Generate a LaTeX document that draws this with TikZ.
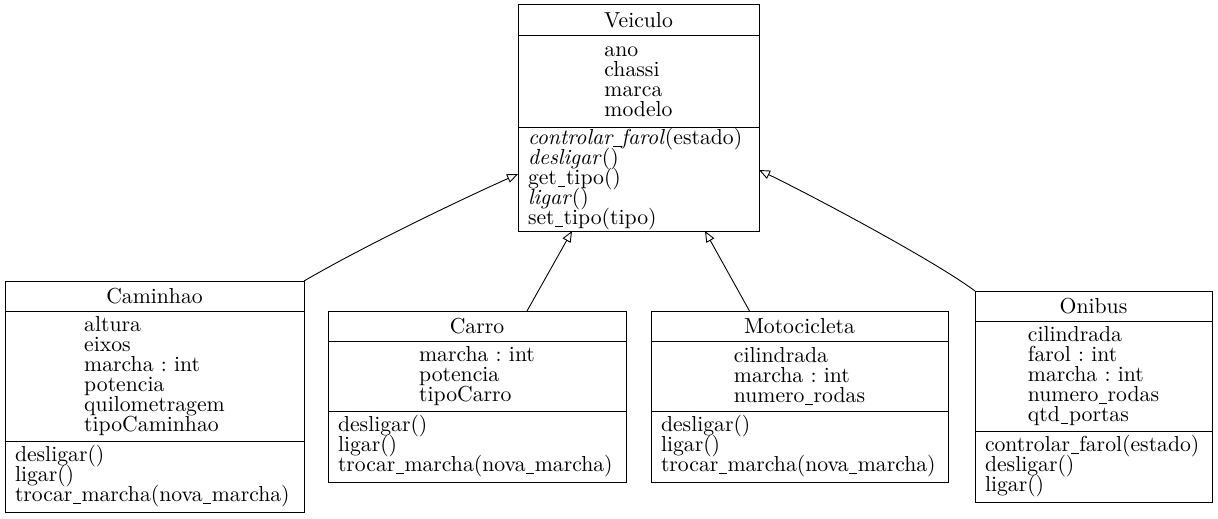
\documentclass[tikz,border=0pt]{standalone}
\usepackage{fontspec}
\setmainfont{lmroman10-regular.otf}[ItalicFont=lmroman10-italic.otf]
\usetikzlibrary{arrows.meta, positioning}

\newcommand{\umlfont}{\fontsize{21.7}{20}\selectfont\frenchspacing\lineskiplimit=-100pt\relax}
\newcommand{\us}{\kern0.03em\rule[-0.1em]{0.36em}{0.9pt}\kern0.03em}

\begin{document}
\begin{tikzpicture}[
  x=1pt, y=-1pt,
  every node/.style={font=\umlfont, outer sep=0pt, line width=1pt},
  title/.style={draw, minimum height=30pt, inner sep=0pt, anchor=north west},
  attrs/.style={draw, align=left, inner sep=0pt, below=0pt of #1},
  ops/.style={draw, align=left, inner xsep=10pt, inner ysep=0pt, below=0pt of #1},
  inherit/.style={line width=0.9pt, -{Triangle[open, length=11pt, width=9pt]}}
]
\useasboundingbox (0,0) rectangle (1218,519);

% Classe base
\node[title, minimum width=241pt, minimum height=31pt] (veiculo) at (518,5) {Veiculo};
\node[attrs=veiculo, minimum width=241pt, minimum height=91pt] (veiculo-a) {ano\\chassi\\marca\\modelo};
\node[ops=veiculo-a, text width=221pt, minimum height=104pt] (veiculo-o)
  {\textit{controlar\us farol}(estado)\\\textit{desligar}()\\get\us tipo()\\\textit{ligar}()\\set\us tipo(tipo)};

% Subclasses
\node[title, minimum width=299pt] (caminhao) at (5,281) {Caminhao};
\node[attrs=caminhao, minimum width=299pt, minimum height=130pt] (caminhao-a)
  {altura\\eixos\\marcha : int\\potencia\\quilometragem\\tipoCaminhao};
\node[ops=caminhao-a, text width=279pt, minimum height=71pt] (caminhao-o)
  {desligar()\\ligar()\\trocar\us marcha(nova\us marcha)};

\node[title, minimum width=298pt] (carro) at (328,311) {Carro};
\node[attrs=carro, minimum width=298pt, minimum height=70pt] (carro-a)
  {marcha : int\\potencia\\tipoCarro};
\node[ops=carro-a, text width=278pt, minimum height=71pt] (carro-o)
  {desligar()\\ligar()\\trocar\us marcha(nova\us marcha)};

\node[title, minimum width=297pt] (moto) at (651,311) {Motocicleta};
\node[attrs=moto, minimum width=297pt, minimum height=70pt] (moto-a)
  {cilindrada\\marcha : int\\numero\us rodas};
\node[ops=moto-a, text width=277pt, minimum height=71pt] (moto-o)
  {desligar()\\ligar()\\trocar\us marcha(nova\us marcha)};

\node[title, minimum width=237pt] (onibus) at (975,291) {Onibus};
\node[attrs=onibus, minimum width=237pt, minimum height=110pt] (onibus-a)
  {cilindrada\\farol : int\\marcha : int\\numero\us rodas\\qtd\us portas};
\node[ops=onibus-a, text width=217pt, minimum height=71pt] (onibus-o)
  {controlar\us farol(estado)\\desligar()\\ligar()};

% Heranca
\draw[inherit] (caminhao.north east) .. controls +(60,-35) and +(-58,26) .. ([yshift=5pt]veiculo-o.west);
\draw[inherit] ([xshift=50pt]carro.north) -- ([xshift=-66.5pt]veiculo-o.south);
\draw[inherit] ([xshift=-50pt]moto.north) -- ([xshift=66.5pt]veiculo-o.south);
\draw[inherit] (onibus.north west) .. controls +(-40,-30) and +(52,25) .. ([yshift=9pt]veiculo-o.east);

\end{tikzpicture}
\end{document}
